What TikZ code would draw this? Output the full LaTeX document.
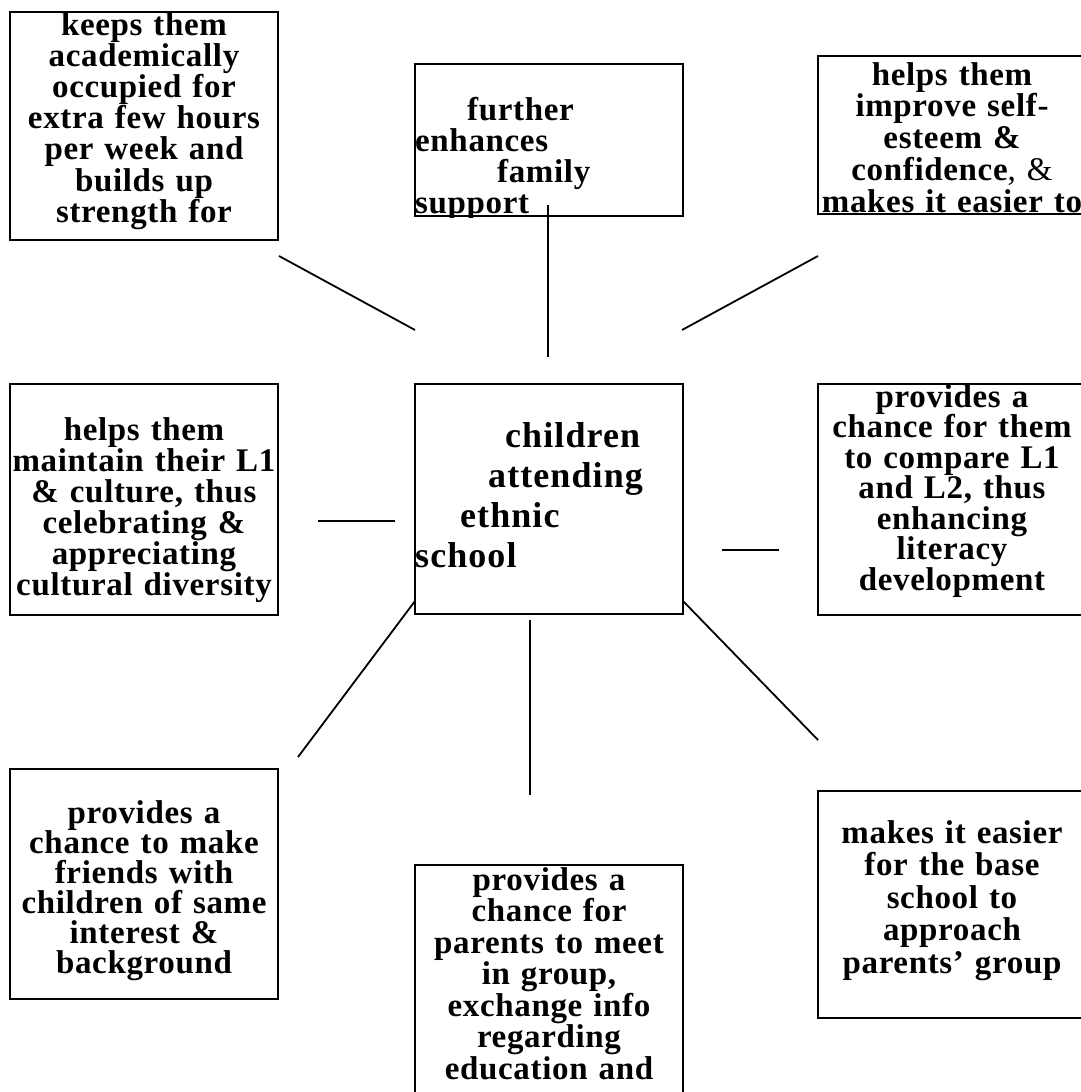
\documentclass[tikz,border=0pt]{standalone}
\usepackage{fontspec}
\newfontfamily\boxfont[LetterSpace=2, WordSpace=1.6]{Liberation Serif}
\newfontfamily\hubfont[LetterSpace=3, WordSpace=1.5]{Liberation Serif}
\newcommand\tightskip{\lineskiplimit=-100pt\relax}

\begin{document}
\begin{tikzpicture}[x=1pt, y=-1pt,
  box/.style={rectangle, draw, line width=2pt, minimum width=268pt, inner sep=0pt},
  txt/.style={text width=320pt, align=center, anchor=base, inner sep=0pt,
    font=\boxfont\bfseries\fontsize{33}{#1}\selectfont\tightskip},
  txt/.default=31.5,
  hubtxt/.style={text width=268pt, align=left, anchor=base west, inner sep=0pt,
    font={#1}},
  link/.style={line width=1.8pt}
]
\useasboundingbox (0,0) rectangle (1081,1092);
\clip (0,0) rectangle (1081,1092);

% Boxes
\node[box, minimum height=228pt] (keeps) at (144,126) {};
\node[box, minimum height=152pt] (family) at (549,140) {};
\node[box, minimum height=158pt] (esteem) at (952,135) {};
\node[box, minimum height=231pt] (culture) at (144,499.5) {};
\node[box, minimum height=230pt] (school) at (549,499) {};
\node[box, minimum height=231pt] (literacy) at (952,499.5) {};
\node[box, minimum height=230pt] (friends) at (144,884) {};
\node[box, minimum height=260pt] (parents) at (549,995) {};
\node[box, minimum height=227pt] (base) at (952,904.5) {};

% Texts
\begin{scope}
  \clip (keeps.north west) rectangle ([yshift=-6pt]keeps.south east);
  \node[txt=31.2] (keepsText) at (144,35) {keeps them\\ academically\\ occupied for\\ extra few hours\\ per week and\\ builds up\\ strength for};
\end{scope}
\begin{scope}
  \clip (family.north west) rectangle (family.south east);
  \node[hubtxt={\boxfont\bfseries\fontsize{33}{31}\selectfont\tightskip}] (familyText) at (415,120) {\hspace*{52pt}further\\ enhances\\ \hspace*{82pt}family\\ support};
\end{scope}
\begin{scope}
  \clip (esteem.north west) rectangle (esteem.south east);
  \node[txt=31.8] (esteemText) at (952,85) {helps them\\ improve self-\\ esteem \&\\ confidence{\mdseries, \&}\\ makes it easier to};
\end{scope}
\node[txt=31] (cultureText) at (144,440) {helps them\\ maintain their L1\\ \& culture, thus\\ celebrating \&\\ appreciating\\ cultural diversity};
\node[hubtxt={\hubfont\bfseries\fontsize{36}{40}\selectfont}] (schoolText) at (415,447) {\hspace*{90pt}children\\ \hspace*{73pt}attending\\ \hspace*{45pt}ethnic\\ school};
\begin{scope}
  \clip (literacy.north west) rectangle (literacy.south east);
  \node[txt=30.5] (literacyText) at (952,407) {provides a\\ chance for them\\ to compare L1\\ and L2, thus\\ enhancing\\ literacy\\ development};
\end{scope}
\node[txt=30] (friendsText) at (144,823) {provides a\\ chance to make\\ friends with\\ children of same\\ interest \&\\ background};
\node[txt=31.5] (parentsText) at (549,890) {provides a\\ chance for\\ parents to meet\\ in group,\\ exchange info\\ regarding\\ education and};
\node[txt=32.5] (baseText) at (952,843) {makes it easier\\ for the base\\ school to\\ approach\\ parents’ group};

% Connectors
\coordinate (keepsEnd) at (279,256);
\coordinate (keepsHub) at (415,330);
\coordinate (familyEnd) at (548,205);
\coordinate (familyHub) at (548,357);
\coordinate (esteemEnd) at (818,256);
\coordinate (esteemHub) at (682,330);
\coordinate (cultureEnd) at (318,521);
\coordinate (cultureHub) at (395,521);
\coordinate (literacyEnd) at (779,550);
\coordinate (literacyHub) at (722,550);
\coordinate (friendsEnd) at (298,757);
\coordinate (friendsHub) at (415,601);
\coordinate (parentsEnd) at (530,795);
\coordinate (parentsHub) at (530,620);
\coordinate (baseEnd) at (818,740);
\coordinate (baseHub) at (683,601);

\draw[link] (keepsEnd) -- (keepsHub);
\draw[link] (familyEnd) -- (familyHub);
\draw[link] (esteemEnd) -- (esteemHub);
\draw[link] (cultureEnd) -- (cultureHub);
\draw[link] (literacyEnd) -- (literacyHub);
\draw[link] (friendsEnd) -- (friendsHub);
\draw[link] (parentsEnd) -- (parentsHub);
\draw[link] (baseEnd) -- (baseHub);

\end{tikzpicture}
\end{document}
